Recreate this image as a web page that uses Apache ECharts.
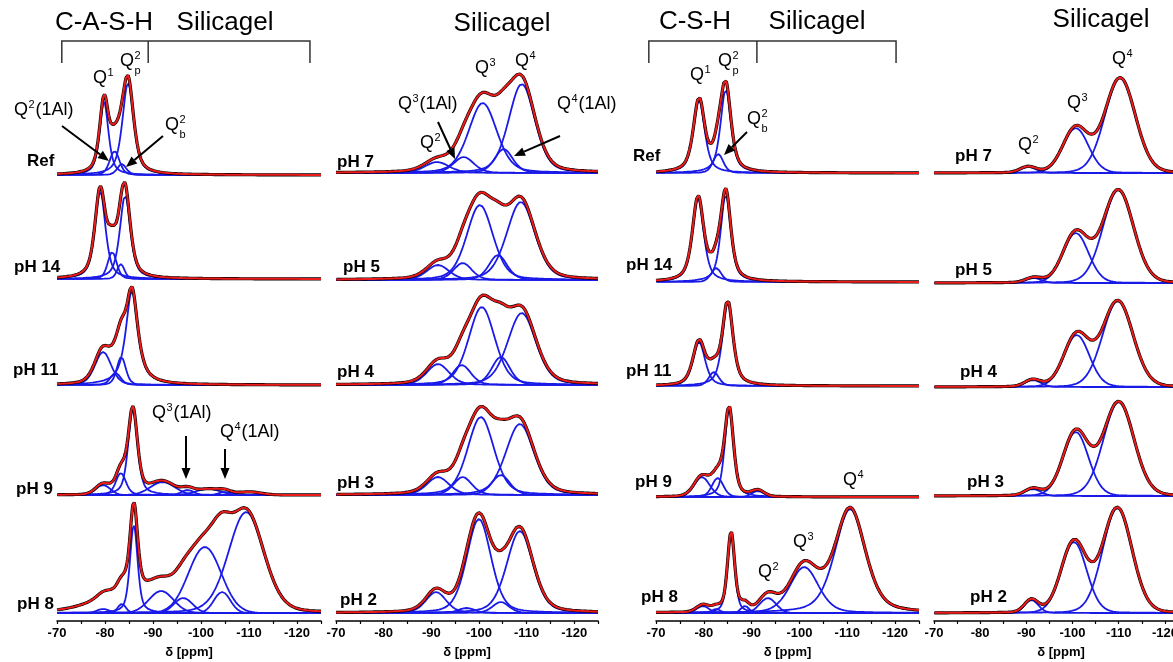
<!DOCTYPE html>
<html><head><meta charset="utf-8">
<script src="https://cdn.jsdelivr.net/npm/echarts@6/dist/echarts.min.js"></script>
<style>html,body{margin:0;padding:0;background:#fff}#c{width:1173px;height:662px}</style>
</head><body><div id="c"></div>
<script>
// ---------- data ----------
const ppmMin = -125, ppmMax = -70;
const tickValues = [-70, -80, -90, -100, -110, -120];
const axisTitle = 'δ [ppm]';

const headers = ['C-A-S-H', 'Silicagel', 'Silicagel', 'C-S-H', 'Silicagel', 'Silicagel'];
const casTraces = ['Ref', 'pH 14', 'pH 11', 'pH 9', 'pH 8'];
const sgaTraces = ['pH 7', 'pH 5', 'pH 4', 'pH 3', 'pH 2'];
const csTraces  = ['Ref', 'pH 14', 'pH 11', 'pH 9', 'pH 8'];
const sgbTraces = ['pH 7', 'pH 5', 'pH 4', 'pH 3', 'pH 2'];

// fitted components: [centre ppm, height, fwhm ppm, lorentz fraction, drawn as component (default 1)]
const casRef  = [[-79.8,73,2.2,0.6],[-82.0,24,2.4,0.3],[-83.5,11,2.2,0.3],[-84.8,92,2.8,0.6]];
const casPH14 = [[-79.0,88,2.6,0.6],[-81.5,27,2.2,0.3],[-83.3,15,1.8,0.3],[-84.2,84,2.6,0.6]];
const casPH11 = [[-79.6,33,4.0,0.3],[-82.2,12,2.5,0.3],[-83.4,28,2.2,0.3],[-85.6,94,3.0,0.8]];
const casPH9  = [[-79.6,10,3.5,0],[-83.3,22,2.5,0.3],[-85.8,86,2.3,0.5],[-92.0,13,6,0],[-97.2,5,3,0],[-101.5,6,6,0],[-105.0,3,3,0],[-110.0,3,6,0]];
const casPH8  = [[-79.6,4,3,0],[-83.5,9,2,0],[-86.0,88,1.9,0.5],[-91.7,22,6,0],[-96.3,15,4.5,0],[-100.8,66,8,0],[-104.4,21,4,0],[-109.4,101,8.7,0.2],[-84.0,22,14,0.5,0]];

const sgaPH7 = [[-91.2,11,6,0.3],[-96.8,16,5,0.3],[-100.8,70,7,0.3],[-105.2,24,4.5,0.3],[-109.0,89,6.5,0.3]];
const sgaPH5 = [[-91.4,15,5.5,0.3],[-96.6,17,4.5,0.3],[-100.2,75,6.5,0.3],[-104.0,25,4.5,0.3],[-108.8,78,7,0.3]];
const sgaPH4 = [[-91.4,21,5.5,0.3],[-96.4,20,4.5,0.3],[-100.6,78,6.5,0.3],[-104.6,28,4.5,0.3],[-109.0,72,7,0.3]];
const sgaPH3 = [[-91.4,18,5.5,0.3],[-96.6,18,4.5,0.3],[-100.4,78,6.5,0.3],[-104.6,20,4.5,0.3],[-108.6,71,7,0.3]];
const sgaPH2 = [[-91.0,21,5,0.3],[-97.4,5,4,0.3],[-100.0,94,6,0.3],[-104.6,11,4,0.3],[-108.6,82,6.5,0.3]];

const csRef  = [[-79.0,73,2.8,0.6],[-83.0,19,2.5,0.3],[-84.6,84,2.6,0.6]];
const csPH14 = [[-78.8,84,2.8,0.6],[-82.6,14,2.5,0.3],[-84.6,88,2.5,0.6]];
const csPH11 = [[-79.0,44,3.0,0.5],[-82.1,14,2.5,0.3],[-85.0,84,2.6,0.6]];
const csPH9  = [[-79.6,20,3.8,0.2],[-82.9,19,2.8,0.2],[-85.3,88,2.2,0.5],[-91.3,6,3,0]];
const csPH8  = [[-79.8,7,3,0],[-82.6,4,2,0],[-85.7,80,1.8,0.5],[-88.6,7,2,0],[-93.4,15,4,0],[-101.0,46,7,0.3],[-110.6,104,7.5,0.4]];

const sgbPH7 = [[-90.4,6,4,0.1],[-100.7,45,6.5,0.1],[-110.3,95,7.8,0.1]];
const sgbPH5 = [[-91.6,5,4,0.1],[-100.7,50,6.5,0.1],[-109.9,93,7.8,0.1]];
const sgbPH4 = [[-91.4,7,4,0.1],[-100.9,52,6.5,0.1],[-109.8,86,7.8,0.1]];
const sgbPH3 = [[-91.4,7,4,0.1],[-100.7,64,6.5,0.1],[-110.0,94,7.8,0.1]];
const sgbPH2 = [[-91.1,13,3.5,0.1],[-100.3,71,6.5,0.1],[-109.7,105,7.5,0.1]];

// ---------- layout ----------
const PLOT_H = 621;
const panelLayout = [
  {left: 57,  width: 264, baselines: [175, 279, 385, 495, 613]},
  {left: 336, width: 262, baselines: [173, 280, 385, 495, 613]},
  {left: 656, width: 263, baselines: [173, 282, 386, 497, 613]},
  {left: 934, width: 254, baselines: [173, 283, 387, 496, 613]}
];
const panelTraces = [casTraces, sgaTraces, csTraces, sgbTraces];
const panelComps = [
  [casRef, casPH14, casPH11, casPH9, casPH8],
  [sgaPH7, sgaPH5, sgaPH4, sgaPH3, sgaPH2],
  [csRef, csPH14, csPH11, csPH9, csPH8],
  [sgbPH7, sgbPH5, sgbPH4, sgbPH3, sgbPH2]
];
const labelPos = [
  [[27,161],[14,267],[13,370],[16,489],[17,604]],
  [[337,162],[343,267],[337,372],[337,483],[340,600]],
  [[633,156],[626,265],[626,371],[635,482],[641,597]],
  [[955,156],[955,270],[960,372],[967,482],[970,597]]
];

const BLUE = '#1a1ae8', RED = '#ee1b1b', BLACK = '#000';
const FONT = '"Liberation Sans", Arial, sans-serif';

function pv(x, c, h, w, eta) {
  const d = (x - c) / (w / 2);
  return h * (eta / (1 + d * d) + (1 - eta) * Math.exp(-Math.LN2 * d * d));
}
const xs = [];
for (let i = 0; i <= 550; i++) xs.push(+(ppmMin + i * 0.1).toFixed(2));

const grids = [], xAxes = [], yAxes = [], series = [];
panelLayout.forEach((pl, p) => {
  grids.push({left: pl.left, width: pl.width, top: 0, height: PLOT_H, outerBoundsMode: 'none', containLabel: false});
  xAxes.push({
    gridIndex: p, type: 'value', min: ppmMin, max: ppmMax, inverse: true, interval: 5,
    axisLine: {show: true, onZero: false, lineStyle: {color: '#000', width: 1.5}},
    axisTick: {show: true, length: 3, lineStyle: {color: '#000', width: 1.2}},
    axisLabel: {show: true, hideOverlap: false, formatter: v => (v % 10 === 0 ? String(v) : ''), fontWeight: 'bold', fontSize: 13, color: '#000', fontFamily: FONT, margin: 6},
    splitLine: {show: false},
    name: axisTitle, nameLocation: 'middle', nameGap: 25,
    nameTextStyle: {fontWeight: 'bold', fontSize: 13, color: '#000', fontFamily: FONT}
  });
  xAxes.push({
    gridIndex: p, type: 'value', min: ppmMin, max: ppmMax, inverse: true, interval: 5,
    axisLine: {show: false, onZero: false},
    axisTick: {show: true, length: 6, customValues: tickValues, lineStyle: {color: '#000', width: 1.2}},
    axisLabel: {show: false}, splitLine: {show: false}
  });
  yAxes.push({gridIndex: p, type: 'value', min: 0, max: PLOT_H, show: false});

  panelComps[p].forEach((comps, t) => {
    const off = PLOT_H - pl.baselines[t];
    const sum = xs.map(() => off);
    comps.forEach(c => {
      const vals = xs.map(x => pv(x, c[0], c[1], c[2], c[3]));
      vals.forEach((v, i) => sum[i] += v);
      if (c[4] !== 0) {
        series.push({type: 'line', xAxisIndex: 2 * p, yAxisIndex: p, showSymbol: false, silent: true,
          animation: false, lineStyle: {color: BLUE, width: 1.8}, z: 2,
          data: xs.map((x, i) => [x, off + vals[i]])});
      }
    });
    series.push({type: 'line', xAxisIndex: 2 * p, yAxisIndex: p, showSymbol: false, silent: true,
      animation: false, lineStyle: {color: BLACK, width: 3.2}, z: 3,
      data: xs.map((x, i) => [x, sum[i]])});
    series.push({type: 'line', xAxisIndex: 2 * p, yAxisIndex: p, showSymbol: false, silent: true,
      animation: false, lineStyle: {color: RED, width: 2}, z: 4,
      data: xs.map((x, i) => [x, sum[i]])});
  });
});

const chart = echarts.init(document.getElementById('c'), null, {renderer: 'canvas', width: 1173, height: 662});
chart.setOption({backgroundColor: '#fff', animation: false, grid: grids, xAxis: xAxes, yAxis: yAxes, series: series});

// ---------- annotations ----------
function txt(x, y, text, font, align) {
  return {type: 'text', x: x, y: y, silent: true, z: 10,
    style: {text: text, font: font, fill: '#000', align: align || 'left', textAlign: align || 'left',
      verticalAlign: 'middle', textVerticalAlign: 'middle'}};
}
function qlab(x, y, sup, sub, tail) {
  const els = [txt(x, y, 'Q', '18px ' + FONT)];
  const qw = 14;
  if (sup) els.push(txt(x + qw + 0.5, y - 5, sup, '11px ' + FONT));
  if (sub) els.push(txt(x + qw + 0.5, y + 10, sub, '11px ' + FONT));
  if (tail) els.push(txt(x + qw + (sup ? 6.5 : 0) + 1, y, tail, '18px ' + FONT));
  return els;
}
function arrow(x1, y1, x2, y2) {
  const a = Math.atan2(y2 - y1, x2 - x1), L = 11, W = 4.5;
  const bx = x2 - L * Math.cos(a), by = y2 - L * Math.sin(a);
  return [
    {type: 'line', silent: true, z: 10, shape: {x1: x1, y1: y1, x2: bx, y2: by}, style: {stroke: '#000', lineWidth: 2}},
    {type: 'polygon', silent: true, z: 10, shape: {points: [[x2, y2], [bx + W * Math.sin(a), by - W * Math.cos(a)], [bx - W * Math.sin(a), by + W * Math.cos(a)]]}, style: {fill: '#000'}}
  ];
}
function bracket(xAxisIndex, ppms, top, bottom) {
  const px = ppms.map(v => chart.convertToPixel({xAxisIndex: xAxisIndex}, v));
  return [
    {type: 'polyline', silent: true, z: 10, shape: {points: [[px[0], bottom], [px[0], top], [px[2], top], [px[2], bottom]]}, style: {stroke: '#333', lineWidth: 1.5, fill: null}},
    {type: 'line', silent: true, z: 10, shape: {x1: px[1], y1: top, x2: px[1], y2: bottom}, style: {stroke: '#333', lineWidth: 1.5}}
  ];
}

let g = [];
const H = '26px ' + FONT;
g.push(txt(104, 23, headers[0], H, 'center'));
g.push(txt(225, 23, headers[1], H, 'center'));
g.push(txt(502, 24, headers[2], H, 'center'));
g.push(txt(695, 22, headers[3], H, 'center'));
g.push(txt(817, 22, headers[4], H, 'center'));
g.push(txt(1101, 20, headers[5], H, 'center'));
g = g.concat(bracket(0, [-71.0, -89.0, -122.7], 41, 63));
g = g.concat(bracket(4, [-68.5, -91.1, -120.2], 41, 63));

panelTraces.forEach((names, p) => names.forEach((n, t) => {
  g.push(txt(labelPos[p][t][0], labelPos[p][t][1], n, 'bold 17px ' + FONT));
}));

// panel 1
g = g.concat(qlab(93, 78, '1'));
g = g.concat(qlab(120, 61, '2', 'p'));
g = g.concat(qlab(14, 110, '2', null, '(1Al)'));
g = g.concat(qlab(165, 125, '2', 'b'));
g = g.concat(arrow(62, 126, 109, 161));
g = g.concat(arrow(163, 136, 126, 167));
g = g.concat(qlab(152, 413, '3', null, '(1Al)'));
g = g.concat(qlab(220, 432, '4', null, '(1Al)'));
g = g.concat(arrow(186, 436, 186, 479));
g = g.concat(arrow(225, 449, 225, 479));
// panel 2
g = g.concat(qlab(475, 68, '3'));
g = g.concat(qlab(515, 61, '4'));
g = g.concat(qlab(398, 104, '3', null, '(1Al)'));
g = g.concat(qlab(420, 143, '2'));
g = g.concat(qlab(557, 104, '4', null, '(1Al)'));
g = g.concat(arrow(438, 122, 455, 159));
g = g.concat(arrow(560, 136, 514, 156));
// panel 3
g = g.concat(qlab(690, 75, '1'));
g = g.concat(qlab(718, 61, '2', 'p'));
g = g.concat(qlab(747, 119, '2', 'b'));
g = g.concat(arrow(747, 132, 724, 155));
g = g.concat(qlab(758, 572, '2'));
g = g.concat(qlab(793, 542, '3'));
g = g.concat(qlab(843, 480, '4'));
// panel 4
g = g.concat(qlab(1112, 59, '4'));
g = g.concat(qlab(1067, 103, '3'));
g = g.concat(qlab(1018, 145, '2'));

chart.setOption({graphic: {elements: g}});
</script>
</body></html>
